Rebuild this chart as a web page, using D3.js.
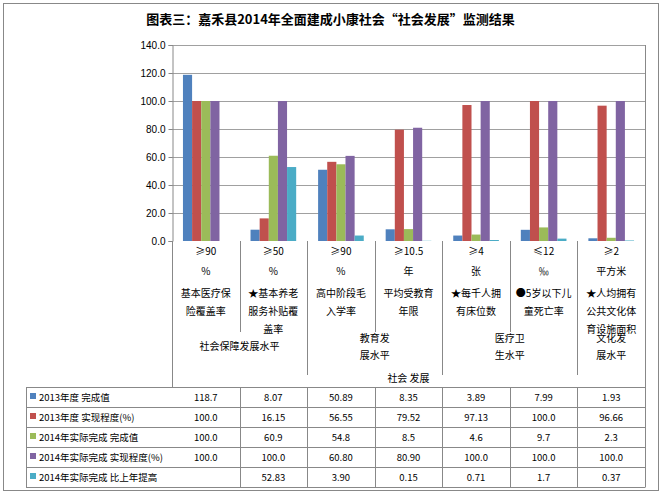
<!DOCTYPE html>
<html><head><meta charset="utf-8">
<script src="https://cdn.jsdelivr.net/npm/d3@7"></script>
<style>body{margin:0;background:#fff;font-family:"Noto Sans CJK SC","DejaVu Sans",sans-serif}</style>
</head><body><div id="chart"></div>
<script>
const categories = ["c1","c2","c3","c4","c5","c6","c7"];
const thresholds = ["≥90","≥50","≥90","≥10.5","≥4","≤12","≥2"];
const units = ["%","%","%","年","张","‰","平方米"];
const indicators = [["基本医疗保","险覆盖率"],["★基本养老","服务补贴覆","盖率"],["高中阶段毛","入学率"],["平均受教育","年限"],["★每千人拥","有床位数"],["●5岁以下儿","童死亡率"],["★人均拥有","公共文化体","育设施面积"]];
const groups = [{from:0,to:2,lines:["社会保障发展水平"]},{from:2,to:4,lines:["教育发","展水平"]},{from:4,to:6,lines:["医疗卫","生水平"]},{from:6,to:7,lines:["文化发","展水平"]}];
const seriesNames = ["2013年度 完成值","2013年度 实现程度(%)","2014年实际完成 完成值","2014年实际完成 实现程度(%)","2014年实际完成 比上年提高"];
const seriesColors = ["#4F81BD","#C0504D","#9BBB59","#8064A2","#4BACC6"];
const s2013Value = [118.7,8.07,50.89,8.35,3.89,7.99,1.93];
const s2013Rate = [100.0,16.15,56.55,79.52,97.13,100.0,96.66];
const s2014Value = [100.0,60.9,54.8,8.5,4.6,9.7,2.3];
const s2014Rate = [100.0,100.0,60.80,80.90,100.0,100.0,100.0];
const s2014Gain = [null,52.83,3.90,0.15,0.71,1.7,0.37];
const tableText = [
  ["118.7","8.07","50.89","8.35","3.89","7.99","1.93"],
  ["100.0","16.15","56.55","79.52","97.13","100.0","96.66"],
  ["100.0","60.9","54.8","8.5","4.6","9.7","2.3"],
  ["100.0","100.0","60.80","80.90","100.0","100.0","100.0"],
  ["","52.83","3.90","0.15","0.71","1.7","0.37"]];
const seriesValues = [s2013Value,s2013Rate,s2014Value,s2014Rate,s2014Gain];
const yTicks = [0,20,40,60,80,100,120,140];

const W = 669, H = 496;
const plotLeft = 172, plotRight = 645, plotTop = 45, plotBottom = 241, tableLeft = 26;
const rowY = [387,407,427,447,467,487];

const svg = d3.select("#chart").append("svg").attr("width", W).attr("height", H)
  .style("font-family", '"Noto Sans CJK SC","DejaVu Sans",sans-serif');

svg.append("rect").attr("x",3.5).attr("y",3.5).attr("width",655).attr("height",487)
  .attr("fill","none").attr("stroke","#888");

svg.append("text").attr("x", W/2 - 4).attr("y", 24).attr("text-anchor","middle")
  .attr("font-size",13).attr("font-weight","bold").text("图表三：嘉禾县2014年全面建成小康社会“社会发展”监测结果");

const x = d3.scaleBand().domain(categories).range([plotLeft, plotRight]);
const xs = d3.scaleBand().domain(d3.range(5)).range([0, x.bandwidth()]).paddingOuter(1.2);
const y = d3.scaleLinear().domain([0,140]).range([plotBottom, plotTop]);

svg.append("g").selectAll("line").data(yTicks.slice(1)).join("line")
  .attr("x1",plotLeft).attr("x2",plotRight).attr("y1",d=>y(d)+0.5).attr("y2",d=>y(d)+0.5)
  .attr("stroke","#888").attr("stroke-width",0.8);

const yAxis = svg.append("g").attr("transform",`translate(${plotLeft+0.5},0)`)
  .call(d3.axisLeft(y).tickValues(yTicks).tickFormat(d3.format(".1f")).tickSize(4));
yAxis.select(".domain").attr("stroke","#888");
yAxis.selectAll(".tick line").attr("stroke","#888");
yAxis.selectAll("text").attr("font-size",10).attr("font-family","Liberation Sans, Arial");

seriesValues.forEach((vals, si) => {
  svg.append("g").selectAll("rect").data(vals.map((v,i)=>({v,i})).filter(d => d.v !== null)).join("rect")
    .attr("x", d => x(categories[d.i]) + xs(si))
    .attr("width", xs.bandwidth())
    .attr("y", d => y(d.v)).attr("height", d => plotBottom - y(d.v))
    .attr("fill", seriesColors[si]);
});

const g = svg.append("g").attr("stroke","#888").attr("stroke-width",1);
g.append("line").attr("x1",plotLeft+0.5).attr("x2",plotLeft+0.5).attr("y1",plotBottom).attr("y2",rowY[0]);
g.append("line").attr("x1",plotRight+0.5).attr("x2",plotRight+0.5).attr("y1",plotTop).attr("y2",rowY[5]);
categories.forEach((c,i) => {
  if (i === 0) return;
  const gx = Math.round(x(c)) + 0.5;
  const isGroupEdge = groups.some(gr => gr.from === i);
  g.append("line").attr("x1",gx).attr("x2",gx).attr("y1",plotBottom).attr("y2", isGroupEdge ? 375 : 332);
  g.append("line").attr("x1",gx).attr("x2",gx).attr("y1",rowY[0]).attr("y2",rowY[5]);
});
rowY.forEach(ry => g.append("line").attr("x1",tableLeft).attr("x2",plotRight+0.5).attr("y1",ry+0.5).attr("y2",ry+0.5));
g.append("line").attr("x1",tableLeft+0.5).attr("x2",tableLeft+0.5).attr("y1",rowY[0]).attr("y2",rowY[5]);

const fs = 10;
categories.forEach((c,i) => {
  const cx = x(c) + x.bandwidth()/2;
  svg.append("text").attr("x",cx).attr("y",255).attr("text-anchor","middle").attr("font-size",fs).text(thresholds[i]);
  svg.append("text").attr("x",cx).attr("y",275).attr("text-anchor","middle").attr("font-size",fs).text(units[i]);
  indicators[i].forEach((t,k) => svg.append("text").attr("x",cx).attr("y",297+k*18)
    .attr("text-anchor","middle").attr("font-size",fs).text(t));
});
groups.forEach(gr => {
  const cx = (x(categories[gr.from]) + x(categories[gr.to-1]) + x.bandwidth())/2;
  const y0 = gr.lines.length === 1 ? 350 : 342;
  gr.lines.forEach((t,k) => svg.append("text").attr("x",cx).attr("y",y0+k*17)
    .attr("text-anchor","middle").attr("font-size",fs).text(t));
});
svg.append("text").attr("x",(plotLeft+plotRight)/2).attr("y",382).attr("text-anchor","middle").attr("font-size",fs).text("社会 发展");

seriesNames.forEach((n,si) => {
  const cy = (rowY[si]+rowY[si+1])/2;
  svg.append("rect").attr("x",30).attr("y",cy-4).attr("width",6).attr("height",6).attr("fill",seriesColors[si]);
  svg.append("text").attr("x",39).attr("y",cy+3.5).attr("font-size",9.5).text(n);
  tableText[si].forEach((t,i) => svg.append("text").attr("x",x(categories[i])+x.bandwidth()/2).attr("y",cy+3.5)
    .attr("text-anchor","middle").attr("font-size",9.5).text(t));
});
</script></body></html>
